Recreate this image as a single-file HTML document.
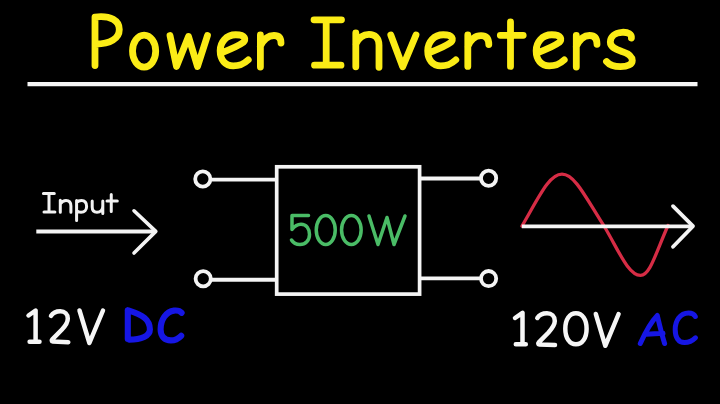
<!DOCTYPE html>
<html><head><meta charset="utf-8">
<style>
html,body{margin:0;padding:0;background:#000;width:720px;height:404px;overflow:hidden;}
svg{display:block;}
</style></head>
<body>
<svg width="720" height="404" viewBox="0 0 720 404">
<rect width="720" height="404" fill="#000"/>
<!-- Title -->
<g fill="none" stroke="#fbec16" stroke-width="6.8" stroke-linecap="round" stroke-linejoin="round">
  <path d="M95,65.5 L95,17 C111,15 119.3,21 119.3,29.5 C119.3,38.5 110,44 96,44"/>
  <ellipse cx="144.1" cy="51.1" rx="11.6" ry="16"/>
  <path d="M170,35.5 L176.5,66.5 L188.5,36.5 L197.5,66.5 L207.5,35.5"/>
  <path transform="translate(216.75,31.35)" d="M5.3,21.2 C13.5,18 22.5,14 26.5,11 C29.5,8.5 29,3.4 19,3.4 C9.5,3.4 3.4,11 3.4,19.5 C3.4,28.5 8.5,34.6 16.5,34.6 C23,34.6 28,31.8 31.5,28.5"/>
  <path d="M260.4,35 L260.4,67 M260.4,46 C263.5,39.5 268,35.5 274,35.5 C279,35.5 281,38.5 281,43"/>
  <path d="M314,19.8 L341.5,19.8 M326.2,19.8 L326.2,65.2 M314.5,65.2 L341,65.2"/>
  <path d="M355.8,33 L355.8,66.8 M355.8,44 C359,37 364,34.3 369,34.3 C375,34.3 379,38 379,45 L379,67.3"/>
  <path d="M390.8,35 L402.7,66.8 L416,35"/>
  <path transform="translate(424.3,31.35)" d="M5.3,21.2 C13.5,18 22.5,14 26.5,11 C29.5,8.5 29,3.4 19,3.4 C9.5,3.4 3.4,11 3.4,19.5 C3.4,28.5 8.5,34.6 16.5,34.6 C23,34.6 28,31.8 31.5,28.5"/>
  <path d="M467.8,35 L467.8,66.4 M467.8,46.5 C470.5,40 475,35.6 481,35.6 C486,35.6 488.8,38.5 488.8,44.5"/>
  <path d="M510.5,21.8 L510.5,66.4 M500.3,35.3 L523.2,35.3"/>
  <path transform="translate(532.75,31.35)" d="M5.3,21.2 C13.5,18 22.5,14 26.5,11 C29.5,8.5 29,3.4 19,3.4 C9.5,3.4 3.4,11 3.4,19.5 C3.4,28.5 8.5,34.6 16.5,34.6 C23,34.6 28,31.8 31.5,28.5"/>
  <path d="M576.3,35.5 L576.3,67 M576.3,46.3 C579.3,39.8 583.5,35.5 589.5,35.5 C594.5,35.5 597,38.3 597,44.3"/>
  <path d="M631.4,38 C631.8,34 628.5,32 622,32.3 C614.5,32.8 610.3,37 610.3,42 C610.3,47.5 616.5,49.5 622,51.5 C628,53.5 632.3,56 632.3,60.5 C632.3,64.5 627.5,66.6 620.5,66.6 C613.5,66.6 609,64.5 606.5,61.5"/>
</g>
<!-- underline -->
<line x1="27.5" y1="84.2" x2="697.5" y2="84.2" stroke="#f6f6f6" stroke-width="4.2" stroke-linecap="butt"/>

<!-- Input -->
<g fill="none" stroke="#f2f2f2" stroke-width="3" stroke-linecap="round" stroke-linejoin="round">
  <path d="M43.4,193.4 L54.3,193.4 M49,193.4 L49,211.9 M44,211.9 L54.9,211.9"/>
  <path d="M60.3,200.3 L60.3,212.3 M60.3,204 C62,201.5 64,200.5 66,200.5 C69.5,200.5 70.9,202.5 70.9,206 L70.9,212.3"/>
  <path d="M76.6,200.5 L76.6,220.4 M76.6,202.5 C78,201 80,200.5 81.5,200.5 C85,200.5 86.6,203 86.6,206.5 C86.6,210 84.5,212.3 81,212.3 C79,212.3 77.5,211.5 76.6,210.5"/>
  <path d="M92.2,200.9 L92.2,207 C92.2,210.5 94,212.3 97,212.3 C100,212.3 102.8,210 102.8,206 M102.8,200.9 L102.8,213.5"/>
  <path d="M111.25,194.6 L111.25,211.5 M107,201 L117.3,201"/>
</g>
<g fill="none" stroke="#f4f4f4" stroke-width="3.6" stroke-linecap="round" stroke-linejoin="round">
  <path d="M36.3,231.5 L155,231.5" stroke-linecap="butt" stroke-width="3.8"/><path d="M134,210.8 L155.8,231.4 L134,253"/>
  <!-- terminals -->
  <circle cx="202.8" cy="179" r="7.6" stroke-width="3.8"/>
  <circle cx="203.2" cy="278.8" r="7.6" stroke-width="3.8"/>
  <circle cx="488.6" cy="178.3" r="7.6" stroke-width="3.8"/>
  <circle cx="488.6" cy="278.6" r="7.6" stroke-width="3.8"/>
  <path d="M210.5,179.6 L276.7,179.6 M211,279.7 L276.7,279.7 M419.6,178.5 L481,178.5 M419.6,278.4 L481,278.4" stroke-linecap="butt" stroke-width="3.9"/>
  <rect x="276.7" y="166.8" width="142.9" height="127.3" stroke-width="3.7" stroke-linejoin="miter"/>
</g>
<!-- 500W -->
<g fill="none" stroke="#4abc66" stroke-width="3.5" stroke-linecap="round" stroke-linejoin="round">
  <path d="M308.5,215.5 L292,215.5 L292,229.5 C294.5,226 298,224.2 301,224.2 C306.5,224.2 309.5,229 309.5,234.5 C309.5,240.5 305.5,244.5 300,244.5 C296,244.5 293,242.5 291.5,240"/>
  <ellipse cx="325.75" cy="230" rx="9.5" ry="14.55"/>
  <ellipse cx="351.35" cy="230" rx="9.8" ry="14.55"/>
  <path d="M369,216 L378,244.5 L387,217.5 L394,244.5 L405,216"/>
</g>
<!-- sine -->
<path fill="none" stroke="#d62c45" stroke-width="3.3" stroke-linecap="round" d="M522,226 C539,197 549,174.2 562,174.2 C575,174.2 586,198 604,226 C618,249 628,275.3 640.5,275.3 C650,275.3 655,255 668,225.5"/>
<g fill="none" stroke="#f4f4f4" stroke-width="3.8" stroke-linecap="round" stroke-linejoin="round">
  <path d="M521.8,226.4 L692,226.4" stroke-linecap="butt"/>
  <path d="M673,206.2 L693,226.2 L673,246.8"/>
</g>
<!-- 12V / 120V -->
<g fill="none" stroke="#f6f6f6" stroke-width="4.5" stroke-linecap="round" stroke-linejoin="round">
  <path d="M28.5,315.5 L35.6,310.5 L35.6,341.5 M29.6,341.7 L39.5,341.7"/>
  <path d="M51,315.8 C53,312.5 56.5,311.2 60.3,311.2 C64.8,311.2 67.8,314.2 67.8,318.5 C67.8,322.5 65.8,325.5 62,329.5 L52.3,339.3 C51.5,340.3 51.5,341.5 52.8,341.6 L68.3,342.2"/>
  <path d="M79.5,310.5 L89.4,343 L103,310.5"/>
  <path d="M515,318 L522.5,312.8 L522.5,344 M515.8,344.2 L525.8,344.2"/>
  <path d="M537.3,318 C539.5,314.5 543,313.3 547,313.3 C551.5,313.3 554.8,316.5 554.8,321 C554.8,325 552.5,328 548.5,332.5 L538.8,342.3 C538,343.3 538,344.5 539.3,344.6 L555,345"/>
  <path d="M575.95,313.3 C582.34,313.3 586.6,319.50 586.6,328.8 C586.6,338.10 582.34,344.3 575.95,344.3 C569.56,344.3 565.3000000000001,338.10 565.3000000000001,328.8 C565.3000000000001,319.50 569.56,313.3 575.95,313.3 Z"/>
  <path d="M595.8,314 L605.3,345.8 L618.6,314"/>
</g>
<!-- DC / AC -->
<g fill="none" stroke="#1616e4" stroke-width="6.1" stroke-linecap="round" stroke-linejoin="round">
  <path d="M127.8,310.3 L127.8,339 M127.8,310.3 C133.5,312.2 140,314.3 144.5,317.8 C148.2,320.8 149.9,325 149.9,329.5 C149.9,336 141.5,339.6 129,339.6"/>
  <path d="M181.6,312.8 C180,310.9 177,310.3 174,310.6 C166,311.5 160.6,320 160.6,329.3 C160.6,336.5 164.8,340.4 170.8,340.4 C175.2,340.4 178.6,338.5 181.2,335.8"/>
</g>
<g fill="none" stroke="#1616e4" stroke-width="5" stroke-linecap="round" stroke-linejoin="round">
  <path d="M640.3,343.5 C645,333 651,322 657.3,315.5 C659.5,325 662,335 664.6,343.5 M646.3,334.3 L663,333.3"/>
  <path d="M695.3,316.5 C694,313.8 691.5,313 688.5,313 C680,313 675.2,321 675.2,329.5 C675.2,337.5 678.5,342.6 684.5,342.6 C689.5,342.6 693,340.3 695.5,337.8"/>
</g>
</svg>
</body></html>
